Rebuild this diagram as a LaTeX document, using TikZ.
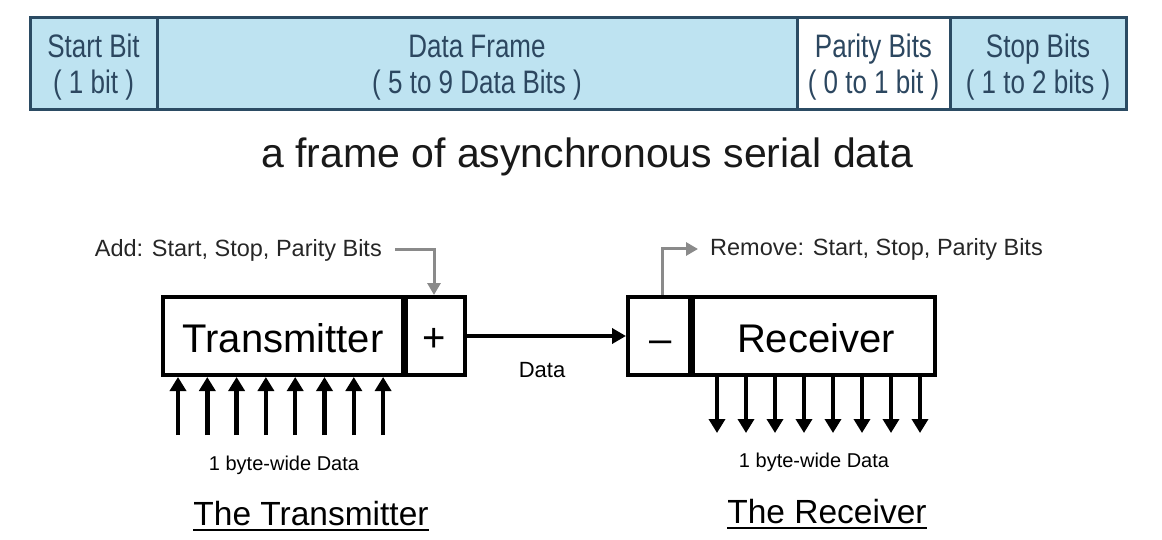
\documentclass[tikz,border=0pt]{standalone}
\usepackage{fontspec}
\setmainfont{Liberation Sans}
\newfontfamily\narrowfont[FakeStretch=0.8]{Liberation Sans}
\usetikzlibrary{arrows.meta}
\definecolor{framefill}{HTML}{BEE3F1}
\definecolor{frameline}{HTML}{2B4B63}
\definecolor{frametext}{HTML}{2C4760}
\definecolor{arrgray}{HTML}{8A8A8A}
\tikzset{
  cell/.style={draw=frameline, line width=3pt, fill=framefill, inner sep=0pt,
    minimum height=92pt},
  celltxt/.style={text=frametext, align=center, inner sep=0pt,
    font=\narrowfont\fontsize{32.5}{36}\selectfont},
  blockbox/.style={draw=black, line width=4pt, fill=white, inner sep=0pt, minimum height=78pt},
  bigtxt/.style={font=\fontsize{40}{44}\selectfont},
  smalltxt/.style={font=\fontsize{20}{22}\selectfont, inner sep=0pt},
  notetxt/.style={font=\fontsize{23.5}{26}\selectfont, inner sep=0pt, text=black!85},
  ttltxt/.style={font=\fontsize{33.5}{36}\selectfont, inner sep=0pt, anchor=base},
  grayarr/.style={draw=arrgray, line width=3pt, -{Triangle[length=12pt,width=13pt]}},
  dataarr/.style={draw=black, line width=3.5pt, -{Triangle[length=14pt,width=15pt]}},
  bitarr/.style={draw=black, line width=4.5pt, -{Triangle[length=14pt,width=16pt]}},
}
\begin{document}
\begin{tikzpicture}[x=1pt,y=-1pt]
\useasboundingbox (0,0) rectangle (1162,540);
% --- frame ---
\node[cell, minimum width=127pt] (start) at (93.5,64) {};
\node[cell, minimum width=640pt] (data) at (477,64) {};
\node[cell, minimum width=153pt, fill=white] (parity) at (873.5,64) {};
\node[cell, minimum width=176pt] (stop) at (1038,64) {};
\node[celltxt] (startlbl) at ([yshift=-3.5pt]start.center) {Start Bit\\( 1 bit )};
\node[celltxt] (datalbl2) at ([yshift=-3.5pt]data.center) {Data Frame\\( 5 to 9 Data Bits )};
\node[celltxt] (paritylbl) at ([yshift=-3.5pt]parity.center) {Parity Bits\\( 0 to 1 bit )};
\node[celltxt] (stoplbl) at ([yshift=-3.5pt]stop.center) {Stop Bits\\( 1 to 2 bits )};
\node[font=\fontsize{41}{44}\selectfont, text=black!90] (title) at (587,157) {a frame of asynchronous serial data};
% --- transmitter ---
\node[blockbox, minimum width=240pt] (tx) at (283,336) {};
\node[bigtxt] (txlbl) at (283,338) {Transmitter};
\node[blockbox, minimum width=62pt] (plus) at (434,336) {};
\node[bigtxt] (pluslbl) at (434,340) {+};
\draw[line width=6pt] (tx.north east) -- (tx.south east);
% --- receiver ---
\node[blockbox, minimum width=65pt] (minus) at (660.5,336) {};
\node[bigtxt] (minuslbl) at (660.5,347) {--};
\node[blockbox, minimum width=242pt] (rx) at (814,336) {};
\node[bigtxt] (rxlbl) at (816,338) {Receiver};
\draw[line width=6pt] (rx.north west) -- (rx.south west);
% --- data link ---
\draw[dataarr] (plus.east) -- (minus.west);
\node[font=\fontsize{22}{24}\selectfont] (datalbl) at (542,370) {Data};
% --- add/remove notes ---
\node[notetxt, anchor=east] (addlbl) at (382,250) {Add: Start, Stop, Parity Bits};
\draw[grayarr] ([xshift=13pt]addlbl.east) -| (plus.north);
\node[notetxt, anchor=west] (remlbl) at (710,249) {Remove: Start, Stop, Parity Bits};
\draw[grayarr, shorten >=12pt] ([xshift=1.5pt]minus.north) |- (remlbl.west);
% --- bit arrows ---
\foreach \i/\x in {1/178,2/207.3,3/236.6,4/265.9,5/295.2,6/324.5,7/353.8,8/383.1}{
  \coordinate (tin\i) at (\x,435);
  \draw[bitarr] (tin\i) -- (tin\i |- tx.south);
}
\foreach \i/\x in {1/717,2/746,3/775,4/804,5/833,6/862,7/891,8/920}{
  \coordinate (rout\i) at (\x,433);
  \draw[bitarr] (rout\i |- rx.south) -- (rout\i);
}
\node[smalltxt] (txbyte) at (284,465) {1 byte-wide Data};
\node[smalltxt] (rxbyte) at (814,462) {1 byte-wide Data};
% --- captions ---
\node[ttltxt] (txttl) at (311,525) {The Transmitter};
\draw[line width=2pt] ([yshift=-5pt]txttl.base west) -- ([yshift=-5pt]txttl.base east);
\node[ttltxt] (rxttl) at (827,523) {The Receiver};
\draw[line width=2pt] ([yshift=-5pt]rxttl.base west) -- ([yshift=-5pt]rxttl.base east);
\end{tikzpicture}
\end{document}
